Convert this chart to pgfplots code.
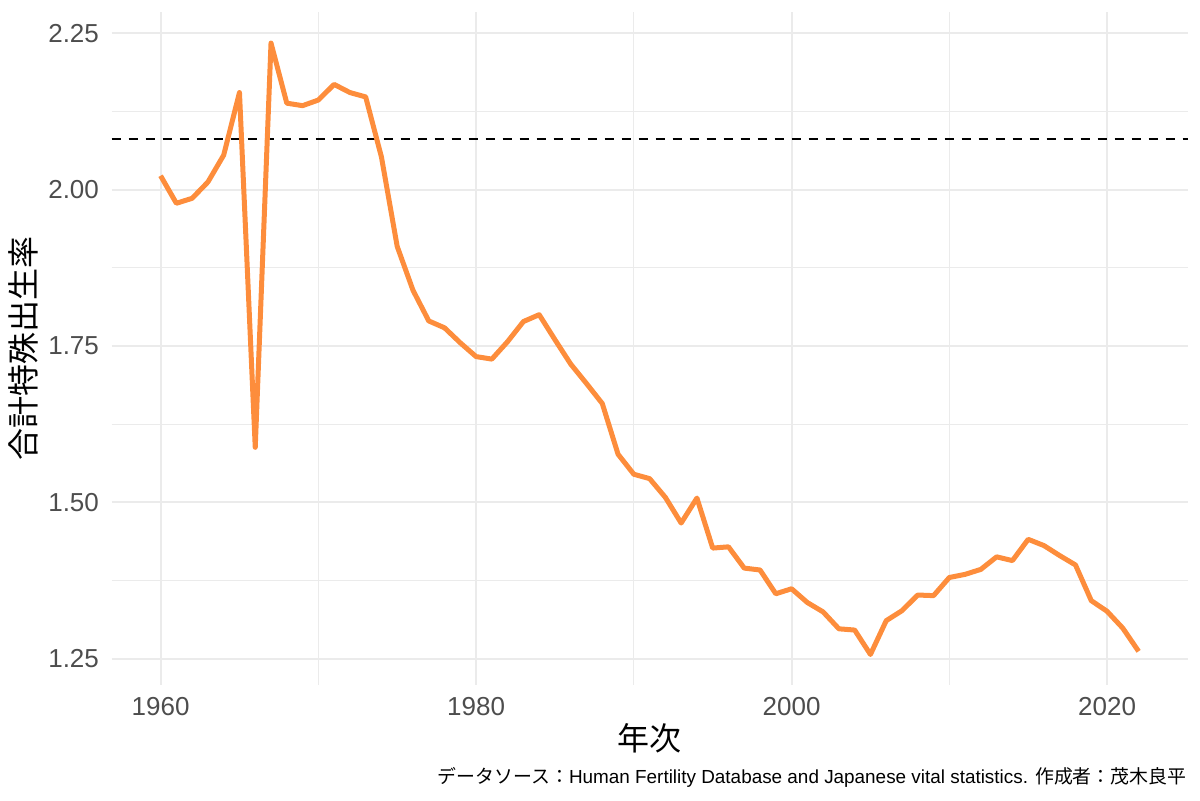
\documentclass[border=0pt]{standalone}
\usepackage{fontspec}
\setmainfont{Liberation Sans}
\newfontfamily\jp{Noto Sans CJK JP}
\usepackage{pgfplots}
\pgfplotsset{compat=1.18}
\definecolor{lineor}{HTML}{FD8D3C}
\definecolor{gridc}{HTML}{EBEBEB}
\definecolor{tickc}{HTML}{4D4D4D}
\begin{document}
\begin{tikzpicture}
\path[use as bounding box] (0,0) rectangle (600pt,400pt);
\begin{axis}[
  at={(55.85pt,57.5pt)}, anchor=south west,
  scale only axis, width=537.9pt, height=336.25pt,
  xmin=1956.9, xmax=2025.1, ymin=1.2082, ymax=2.2829,
  axis line style={draw=none},
  major tick length=0pt, minor tick length=0pt,
  xtick={1960,1980,2000,2020},
  minor xtick={1970,1990,2010},
  ytick={1.25,1.5,1.75,2.0,2.25},
  minor ytick={1.375,1.625,1.875,2.125},
  grid=both,
  major grid style={gridc, line width=1pt},
  minor grid style={gridc, line width=0.5pt},
  /pgf/number format/assume math mode=true,
  xticklabel style={font=\fontsize{13}{15}\selectfont, text=tickc, anchor=north, inner sep=0pt, yshift=-6pt, /pgf/number format/1000 sep={}},
  yticklabel style={font=\fontsize{13}{15}\selectfont, text=tickc, anchor=east, inner sep=0pt, xshift=-6.2pt, /pgf/number format/fixed, /pgf/number format/fixed zerofill, /pgf/number format/precision=2},
  xlabel={\jp 年次},
  xlabel style={font=\fontsize{16}{18}\selectfont, at={(axis description cs:0.5,-0.0788)}, anchor=center},
  ylabel={\jp 合計特殊出生率},
  ylabel style={font=\fontsize{16}{18}\selectfont, at={(axis description cs:-0.0824,0.5)}, anchor=center},
  clip=false,
]
\addplot[black, line width=1pt, dash pattern=on 4.5pt off 4pt] coordinates {(1956.9,2.08) (2025.1,2.08)};
\addplot[lineor, line width=2.5pt, line join=round] coordinates {
(1960,2.022) (1961,1.978) (1962,1.986) (1963,2.012) (1964,2.055) (1965,2.155)
(1966,1.588) (1967,2.234) (1968,2.138) (1969,2.134) (1970,2.143) (1971,2.168)
(1972,2.155) (1973,2.148) (1974,2.052) (1975,1.909) (1976,1.839) (1977,1.790)
(1978,1.779) (1979,1.755) (1980,1.733) (1981,1.729) (1982,1.757) (1983,1.789)
(1984,1.800) (1985,1.760) (1986,1.721) (1987,1.690) (1988,1.658) (1989,1.577)
(1990,1.545) (1991,1.538) (1992,1.508) (1993,1.467) (1994,1.507) (1995,1.427)
(1996,1.429) (1997,1.395) (1998,1.392) (1999,1.354) (2000,1.362) (2001,1.340)
(2002,1.325) (2003,1.298) (2004,1.296) (2005,1.257) (2006,1.311) (2007,1.327)
(2008,1.352) (2009,1.351) (2010,1.380) (2011,1.385) (2012,1.393) (2013,1.413)
(2014,1.407) (2015,1.441) (2016,1.431) (2017,1.415) (2018,1.400) (2019,1.343)
(2020,1.326) (2021,1.299) (2022,1.262)
};
\end{axis}
\node[anchor=base east, inner sep=0pt, font=\fontsize{9.45}{11}\selectfont] at (593.35pt,8.5pt) {{\jp データソース：}Human Fertility Database and Japanese vital statistics. {\jp 作成者：茂木良平}};
\end{tikzpicture}
\end{document}
